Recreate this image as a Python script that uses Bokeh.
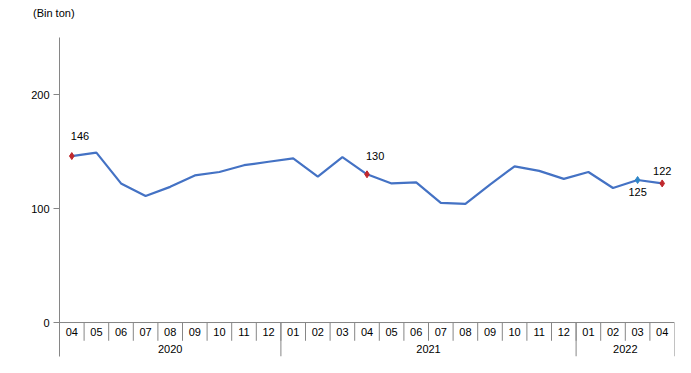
from bokeh.plotting import figure
from bokeh.models import Range1d, FixedTicker, ColumnDataSource, Div
from bokeh.layouts import column
from bokeh.embed import file_html
from bokeh.resources import INLINE
from bokeh.core.properties import value

# ---- data ----
months = ["04", "05", "06", "07", "08", "09", "10", "11", "12",
          "01", "02", "03", "04", "05", "06", "07", "08", "09", "10", "11", "12",
          "01", "02", "03", "04"]
years = ["2020"] * 9 + ["2021"] * 12 + ["2022"] * 4
year_labels = ["2020", "2021", "2022"]
values = [146, 149, 122, 111, 119, 129, 132, 138, 141,
          144, 128, 145, 130, 122, 123, 105, 104, 121, 137, 133, 126,
          132, 118, 125, 122]
red_points = [0, 12, 24]
blue_points = [23]
label_points = [0, 12, 23, 24]
label_texts = ["146", "130", "125", "122"]
y_ticks = [0, 100, 200]
unit_label = "(Bin ton)"

# ---- styles ----
FONT = "Liberation Sans"
LINE_C = "#4472C4"
AX_C = "#868686"
label_dx = [-1, -1, 0, 0]
label_dy = [-20, -18, 12, -12]
label_align = ["left", "left", "center", "center"]

n = len(months)
xs = list(range(n))
DIV_H = 20

head = Div(text=('<div style="padding-left:33px;padding-top:7px;font-family:\'Liberation Sans\';'
                 'font-size:11px;line-height:12px;color:black;">' + unit_label + '</div>'),
           width=675, height=DIV_H, margin=(0, 0, 0, 0))

p = figure(width=675, height=357 - DIV_H, output_backend="svg", toolbar_location=None,
           x_range=Range1d(-0.5, n - 0.5), y_range=Range1d(-29.8, 250),
           min_border_left=59, min_border_right=1, min_border_top=37 - DIV_H, min_border_bottom=1,
           margin=(0, 0, 0, 0))
p.outline_line_color = None
p.xgrid.visible = False
p.ygrid.visible = False
p.xaxis.visible = False

ya = p.yaxis[0]
ya.ticker = FixedTicker(ticks=y_ticks)
ya.axis_line_color = AX_C
ya.major_tick_line_color = AX_C
ya.major_tick_out = 6
ya.major_tick_in = 0
ya.minor_tick_line_color = None
ya.major_label_text_font = FONT
ya.major_label_text_font_size = "11px"
ya.major_label_text_color = "black"
ya.major_label_standoff = 4

# table: baseline
p.segment(x0=[-0.5], y0=[0], x1=[n - 0.5], y1=[0], line_color=AX_C, line_width=1)
# month separators
p.segment(x0=[i - 0.5 for i in range(1, n)], y0=[0] * (n - 1),
          x1=[i - 0.5 for i in range(1, n)], y1=[-16] * (n - 1),
          line_color=AX_C, line_width=1)
# year separators
bounds = [i - 0.5 for i in range(1, n) if years[i] != years[i - 1]] + [n - 0.5]
p.segment(x0=bounds, y0=[0] * len(bounds), x1=bounds, y1=[-29.8] * len(bounds),
          line_color=AX_C, line_width=1)
# month labels
p.text(x=xs, y=[-8.5] * n, text=months, text_align="center", text_baseline="middle",
       text_font=value(FONT), text_font_size="11px", text_color="black")
# year labels
yc = []
for yl in year_labels:
    idx = [i for i, y in enumerate(years) if y == yl]
    yc.append(sum(idx) / len(idx))
p.text(x=yc, y=[-23.5] * len(yc), text=year_labels, text_align="center", text_baseline="middle",
       text_font=value(FONT), text_font_size="11px", text_color="black")

# line
p.line(xs, values, line_color=LINE_C, line_width=2.2)
p.scatter([xs[i] for i in red_points], [values[i] for i in red_points], marker="diamond",
          size=7, fill_color="#C0282D", line_color="#C0282D")
p.scatter([xs[i] for i in blue_points], [values[i] for i in blue_points], marker="diamond",
          size=7, fill_color="#2E86C8", line_color="#2E86C8")

src = ColumnDataSource(dict(x=[xs[i] for i in label_points], y=[values[i] for i in label_points],
                            t=label_texts, dx=label_dx, dy=label_dy, al=label_align))
p.text(x="x", y="y", text="t", x_offset="dx", y_offset="dy", text_align="al",
       text_baseline="middle", text_font=value(FONT), text_font_size="11px",
       text_color="black", source=src)

layout = column(head, p, spacing=0)
open("out.html", "w").write(file_html(layout, INLINE))
